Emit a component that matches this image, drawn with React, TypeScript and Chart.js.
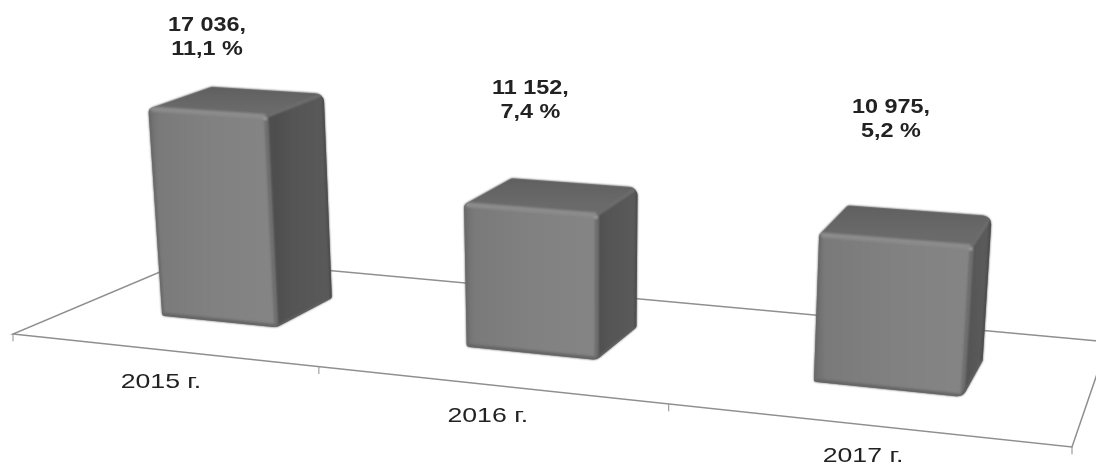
import React, { useEffect, useRef } from "react";
import { Chart, registerables } from "chart.js";

Chart.register(...registerables);

const categories = ["2015 г.", "2016 г.", "2017 г."];
const absoluteValues = [17036, 11152, 10975];
const shareLabels = ["11,1 %", "7,4 %", "5,2 %"];
const valueLabels = ["17 036,", "11 152,", "10 975,"];

// Floor plane corners: front-left, front-right, back-right, back-left
const FLOOR = [[13, 334], [1072, 447], [1108, 342], [193, 258]];
const DEPTH = [0.32, 0.68];
const LEAN_CENTER = 585;
const LEAN = 0.000157;
const U_WARP = 0.05;
const BACK_RISE = 1.025;
const VALUE_LABEL_OFFSET = [[-29, -64], [-20.5, -95], [-14.5, -106]];

function makeProjection() {
  const [[x0, y0], [x1, y1], [x2, y2], [x3, y3]] = FLOOR;
  const dx1 = x1 - x2, dx2 = x3 - x2, sx = x0 - x1 + x2 - x3;
  const dy1 = y1 - y2, dy2 = y3 - y2, sy = y0 - y1 + y2 - y3;
  const den = dx1 * dy2 - dx2 * dy1;
  const g = (sx * dy2 - dx2 * sy) / den;
  const h = (dx1 * sy - sx * dy1) / den;
  return (uRaw: number, d: number) => {
    const u = uRaw - U_WARP * uRaw * (1 - uRaw);
    const w = 1 + g * u + h * d;
    return {
      x: (x0 + (x1 - x0 + g * x1) * u + (x3 - x0 + h * x3) * d) / w,
      y: (y0 + (y1 - y0 + g * y1) * u + (y3 - y0 + h * y3) * d) / w,
      w,
    };
  };
}
const project = makeProjection();
type P = { x: number; y: number; w: number };
const lift = (p: P, hgt: number): P => {
  const dy = hgt / p.w;
  return { x: p.x + (p.x - LEAN_CENTER) * LEAN * dy, y: p.y - dy, w: p.w };
};

function roundedPoly(ctx: CanvasRenderingContext2D, pts: P[], radii: number[]) {
  const n = pts.length;
  const last = pts[n - 1];
  ctx.beginPath();
  ctx.moveTo((last.x + pts[0].x) / 2, (last.y + pts[0].y) / 2);
  for (let i = 0; i < n; i++) {
    const a = pts[i], b = pts[(i + 1) % n];
    ctx.arcTo(a.x, a.y, b.x, b.y, radii[i]);
  }
  ctx.closePath();
}
function poly(ctx: CanvasRenderingContext2D, pts: P[], fill: string | CanvasGradient) {
  ctx.beginPath();
  pts.forEach((p, i) => (i ? ctx.lineTo(p.x, p.y) : ctx.moveTo(p.x, p.y)));
  ctx.closePath();
  ctx.fillStyle = fill;
  ctx.fill();
}
function edge(ctx: CanvasRenderingContext2D, a: P, b: P, color: string, width: number) {
  ctx.beginPath();
  ctx.moveTo(a.x, a.y);
  ctx.lineTo(b.x, b.y);
  ctx.strokeStyle = color;
  ctx.lineWidth = width;
  ctx.stroke();
}
function stretchedText(ctx: CanvasRenderingContext2D, text: string, x: number, y: number, sx: number) {
  ctx.save();
  ctx.translate(x, y);
  ctx.scale(sx, 1);
  ctx.textAlign = "center";
  ctx.textBaseline = "middle";
  ctx.fillText(text, 0, 0);
  ctx.restore();
}

const perspectivePlugin = {
  id: "perspective",
  beforeDatasetsDraw(chart: any) {
    const ctx: CanvasRenderingContext2D = chart.ctx;
    ctx.save();
    ctx.lineCap = "round";
    ctx.filter = "blur(0.4px)";
    ctx.beginPath();
    FLOOR.forEach(([x, y], i) => (i ? ctx.lineTo(x, y) : ctx.moveTo(x, y)));
    ctx.closePath();
    ctx.strokeStyle = "#8f8f8f";
    ctx.lineWidth = 1.5;
    ctx.stroke();
    categories.concat("").forEach((_, i) => {
      const p = project(i / categories.length, 0);
      ctx.beginPath();
      ctx.moveTo(p.x, p.y);
      ctx.lineTo(p.x, p.y + 7);
      ctx.lineWidth = 1;
      ctx.stroke();
    });
    ctx.restore();
  },
  afterDatasetsDraw(chart: any) {
    const ctx: CanvasRenderingContext2D = chart.ctx;
    const area = chart.chartArea;
    const bars = chart.getDatasetMeta(0).data;
    ctx.save();
    bars.forEach((bar: any, i: number) => {
      const uC = (bar.x - area.left) / area.width;
      const hw = bar.width / 2 / area.width;
      const hgt = bar.base - bar.y;
      const A = project(uC - hw, DEPTH[0]);
      const B = project(uC + hw, DEPTH[0]);
      const C = project(uC + hw, DEPTH[1]);
      const D = project(uC - hw, DEPTH[1]);
      const A2 = lift(A, hgt), B2 = lift(B, hgt);
      const C2 = lift(C, hgt * BACK_RISE), D2 = lift(D, hgt * BACK_RISE);

      ctx.save();
      ctx.filter = "blur(1px)";
      roundedPoly(ctx, [A, B, C, C2, D2, A2], [3, 10, 3, 9, 4, 6]);
      ctx.fillStyle = "#565656";
      ctx.fill();
      ctx.clip();

      const side = ctx.createLinearGradient(B.x, 0, C.x, 0);
      side.addColorStop(0, "#4e4e4e");
      side.addColorStop(0.3, "#555555");
      side.addColorStop(1, "#5a5a5a");
      poly(ctx, [B, C, C2, B2], side);

      const top = ctx.createLinearGradient(0, A2.y, 0, D2.y);
      top.addColorStop(0, "#6a6a6a");
      top.addColorStop(1, "#606060");
      poly(ctx, [A2, B2, C2, D2], top);

      const front = ctx.createLinearGradient(Math.min(A.x, A2.x), 0, Math.max(B.x, B2.x), 0);
      front.addColorStop(0, "#6c6c6c");
      front.addColorStop(0.08, "#7a7a7a");
      front.addColorStop(0.5, "#818181");
      front.addColorStop(1, "#858585");
      poly(ctx, [A, B, B2, A2], front);

      edge(ctx, A2, B2, "#8c8c8c", 5);
      edge(ctx, A, B, "#666666", 6);
      edge(ctx, A, A2, "#6a6a6a", 4);
      edge(ctx, B, B2, "#6f6f6f", 4);
      edge(ctx, B, C, "#5f5f5f", 4);
      edge(ctx, B2, C2, "#6e6e6e", 3);
      edge(ctx, C, C2, "#474747", 3);
      ctx.beginPath();
      ctx.arc(B2.x - 1, B2.y + 2, 2, 0, Math.PI * 2);
      ctx.fillStyle = "#a0a0a0";
      ctx.fill();
      ctx.restore();

      ctx.save();
      ctx.filter = "blur(0.4px)";
      // Value labels above the bar
      const topX = (A2.x + C2.x) / 2, topY = (A2.y + C2.y) / 2;
      const [ox, oy] = VALUE_LABEL_OFFSET[i];
      ctx.fillStyle = "#222222";
      ctx.font = "bold 19.5px 'Liberation Sans'";
      stretchedText(ctx, valueLabels[i], topX + ox, topY + oy - 12, 1.2);
      stretchedText(ctx, shareLabels[i], topX + ox, topY + oy + 12, 1.2);

      // Category label under the floor edge
      const f = project(uC, 0);
      ctx.font = "21px 'Liberation Sans'";
      stretchedText(ctx, categories[i], f.x, f.y + 32, 1.27);
      ctx.restore();
    });
    ctx.restore();
  },
};

export default function App() {
  const ref = useRef<HTMLCanvasElement>(null);
  useEffect(() => {
    document.body.style.margin = "0";
    document.body.style.background = "#ffffff";
    const chart = new Chart(ref.current!, {
      type: "bar",
      data: {
        labels: categories,
        datasets: [{
          data: absoluteValues,
          backgroundColor: "rgba(0,0,0,0)",
          barPercentage: 0.39,
          categoryPercentage: 1,
        }],
      },
      options: {
        responsive: false,
        animation: false,
        layout: { padding: 0 },
        plugins: { legend: { display: false }, tooltip: { enabled: false } },
        scales: {
          x: { display: false },
          y: { display: false, min: 0, max: 37000 },
        },
      },
      plugins: [perspectivePlugin],
    });
    return () => chart.destroy();
  }, []);
  return <canvas ref={ref} width={1096} height={467} style={{ display: "block", background: "#fff" }} />;
}
